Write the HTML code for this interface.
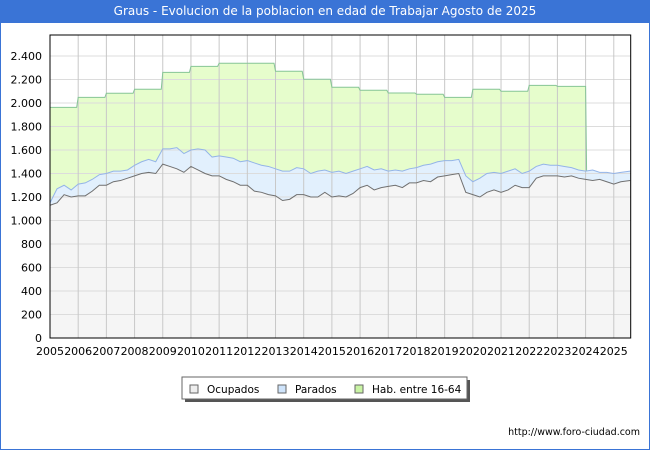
<!DOCTYPE html>
<html><head><meta charset="utf-8"><style>
body{margin:0;width:650px;height:450px;overflow:hidden;background:#fff;font-family:"DejaVu Sans",sans-serif}
#wrap{position:relative;width:648px;height:449px;border:1px solid #3a74d6;border-top:none}
#title{position:absolute;left:0;top:0;width:648px;height:23px;background:#3a74d6;color:#fff;font-size:12px;line-height:23px;text-align:center}
#foot{position:absolute;right:9px;top:427px;font-size:9.5px;color:#000}
svg text{font-family:"DejaVu Sans",sans-serif}
</style></head><body>
<div id="wrap">
<div id="title">Graus - Evolucion de la poblacion en edad de Trabajar Agosto de 2025</div>
<svg id="chart" width="650" height="420" style="position:absolute;left:-1px;top:0"></svg>
<div id="foot">http://www.foro-ciudad.com</div>
</div>
<script>
const years=[2005,2006,2007,2008,2009,2010,2011,2012,2013,2014,2015,2016,2017,2018,2019,2020,2021,2022,2023];
const hab=[1963,2048,2083,2117,2261,2312,2338,2338,2270,2202,2134,2108,2085,2074,2048,2117,2100,2150,2142];
const ocupados=[1130,1150,1220,1200,1210,1210,1250,1300,1300,1330,1340,1360,1380,1400,1410,1400,1480,1460,1440,1410,1460,1430,1400,1380,1380,1350,1330,1300,1300,1250,1240,1220,1210,1170,1180,1220,1220,1200,1200,1240,1200,1210,1200,1230,1280,1300,1260,1280,1290,1300,1280,1320,1320,1340,1330,1370,1380,1390,1400,1240,1220,1200,1240,1260,1240,1260,1300,1280,1280,1360,1380,1380,1380,1370,1380,1360,1350,1340,1350,1330,1310,1330,1340];
const total=[1150,1270,1300,1260,1310,1320,1350,1390,1400,1420,1420,1430,1470,1500,1520,1500,1610,1610,1620,1570,1600,1610,1600,1540,1550,1540,1530,1500,1510,1490,1470,1460,1440,1420,1420,1450,1440,1400,1420,1430,1410,1420,1400,1420,1440,1460,1430,1440,1420,1430,1420,1440,1450,1470,1480,1500,1510,1510,1520,1380,1330,1360,1400,1410,1400,1420,1440,1400,1420,1460,1480,1470,1470,1460,1450,1430,1420,1430,1410,1410,1400,1410,1420];
const yTicks=[0,200,400,600,800,1000,1200,1400,1600,1800,2000,2200,2400];
const xTicks=[2005,2006,2007,2008,2009,2010,2011,2012,2013,2014,2015,2016,2017,2018,2019,2020,2021,2022,2023,2024,2025];
const L=50,R=630.7,T=35,B=338,x0=2005,xEnd=2025.6;
const X=t=>L+(t-x0)*(R-L)/(xEnd-x0);
const Y=v=>B-v*0.1175;
const tq=i=>i===ocupados.length-1?2025.58:2005+i*0.25;
const svg=document.getElementById('chart');const NS='http://www.w3.org/2000/svg';
function mk(tag,attrs,parent){const e=document.createElementNS(NS,tag);for(const k in attrs)e.setAttribute(k,attrs[k]);(parent||svg).appendChild(e);return e;}
const bg=mk('rect',{x:L,y:T,width:R-L,height:B-T,fill:'#fff'});


let hp=`M${X(2005)},${Y(total[0])} L${X(2005)},${Y(hab[0])}`;
years.forEach((y,i)=>{hp+=` L${X(y)},${Y(hab[i])} L${X(y)+ (i==years.length-1?(X(2024)-X(y)):(X(y+1)-X(y)-1.5))},${Y(hab[i])}`;});
const endI=76; hp+=` L${X(2024)+1},${Y(total[endI])}`;
let hline=hp;
for(let i=endI;i>=0;i--)hp+=` L${X(tq(i))},${Y(total[i])}`;hp+='Z';
const ha=mk('path',{d:hp,fill:'#e6fdcc',stroke:'none'});


let tp='',op='';
total.forEach((v,i)=>tp+=(i?' L':'M')+X(tq(i))+','+Y(v));
ocupados.forEach((v,i)=>op+=(i?' L':'M')+X(tq(i))+','+Y(v));
const pa=mk('path',{d:tp+` L${X(tq(ocupados.length-1))},${Y(ocupados[ocupados.length-1])}`+ocupados.map((v,i)=>i).reverse().map(i=>` L${X(tq(i))},${Y(ocupados[i])}`).join('')+'Z',fill:'#e2f0fd'});


const oa=mk('path',{d:op+` L${X(tq(ocupados.length-1))},${B} L${X(2005)},${B}Z`,fill:'#f5f5f5'});


yTicks.forEach(v=>{const g=mk('line',{x1:L,x2:R,y1:Y(v),y2:Y(v),stroke:'#dcdcdc','stroke-width':1});


const t=mk('text',{x:42,y:Y(v)+4,'text-anchor':'end','font-size':11,fill:'#000'});t.textContent=v.toLocaleString('de-DE');

});
xTicks.forEach(v=>{const g=mk('line',{x1:X(v),x2:X(v),y1:T,y2:B,stroke:'#c8c8c8','stroke-width':1});


const t=mk('text',{x:X(v),y:355,'text-anchor':'middle','font-size':11,fill:'#000'});t.textContent=v;

});
const hl=mk('path',{d:hline,fill:'none',stroke:'#86c596','stroke-width':1});


const tl=mk('path',{d:tp,fill:'none',stroke:'#94b4e8','stroke-width':1});


const ol=mk('path',{d:op,fill:'none',stroke:'#707070','stroke-width':1});


const fr=mk('rect',{x:L,y:T,width:R-L,height:B-T,fill:'none',stroke:'#000','stroke-width':1});


const lg=mk('g',{});


mk('rect',{x:185,y:380,width:285,height:22,fill:'#555'},lg);
mk('rect',{x:182,y:377,width:285,height:22,fill:'#fff',stroke:'#666'},lg);
[['Ocupados','#eeeeee',190,'legend-ocupados'],['Parados','#cfe4fb',278,'legend-parados'],['Hab. entre 16-64','#c9f4a4',355,'legend-hab']].forEach(([n,c,x,dn])=>{
const g=mk('g',{},lg);


mk('rect',{x:x,y:385,width:8,height:8,fill:c,stroke:'#666'},g);
const t=mk('text',{x:x+17,y:393,'font-size':10.5,fill:'#000'},g);t.textContent=n;});
</script>
</body></html>
